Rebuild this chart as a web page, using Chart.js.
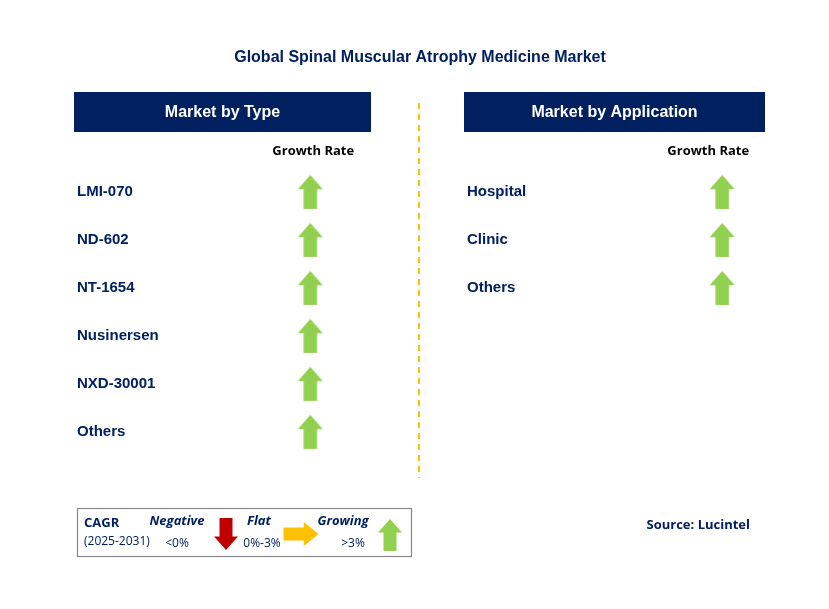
<!DOCTYPE html>
<html><head><meta charset="utf-8">
<script src="https://cdn.jsdelivr.net/npm/chart.js@4"></script>
<style>html,body{margin:0;padding:0;background:#fff}canvas{display:block}</style>
</head><body>
<canvas id="c" width="829" height="609"></canvas>
<script>
const title = "Global Spinal Muscular Atrophy Medicine Market";
const typeCategories = ["LMI-070","ND-602","NT-1654","Nusinersen","NXD-30001","Others"];
const typeGrowth = ["growing","growing","growing","growing","growing","growing"];
const appCategories = ["Hospital","Clinic","Others"];
const appGrowth = ["growing","growing","growing"];
const headers = ["Market by Type","Market by Application"];
const source = "Source: Lucintel";

const NAVY = "#002060", GREEN = "#92D050", RED = "#C00000", YEL = "#FFC000";
const F = "'Liberation Sans', Arial, sans-serif";
const F2 = "'Open Sans', 'DejaVu Sans', sans-serif";

function upArrow(ctx, cx, cy, h, w, color){
  const hw=w/2, bw=w*0.27, hh=h*0.42;
  ctx.save(); ctx.fillStyle=color; ctx.beginPath();
  ctx.moveTo(cx, cy-h/2); ctx.lineTo(cx+hw, cy-h/2+hh); ctx.lineTo(cx+bw, cy-h/2+hh);
  ctx.lineTo(cx+bw, cy+h/2); ctx.lineTo(cx-bw, cy+h/2); ctx.lineTo(cx-bw, cy-h/2+hh);
  ctx.lineTo(cx-hw, cy-h/2+hh); ctx.closePath(); ctx.fill(); ctx.restore();
}
function downArrow(ctx,cx,cy,h,w,color){
  ctx.save(); ctx.translate(cx,cy); ctx.rotate(Math.PI); upArrow(ctx,0,0,h,w,color); ctx.restore();
}
function rightArrow(ctx,cx,cy,h,w,color){
  ctx.save(); ctx.translate(cx,cy); ctx.rotate(Math.PI/2); upArrow(ctx,0,0,h,w,color); ctx.restore();
}

function arrowCanvas(){
  const c=document.createElement('canvas'); c.width=26; c.height=36;
  upArrow(c.getContext('2d'),13,18,34,25,GREEN); return c;
}
const arrowImg = arrowCanvas();

const deco = {
  id:'deco',
  beforeDatasetsDraw(chart){
    const ctx=chart.ctx, xs=chart.scales.x, ys=chart.scales.y;
    ctx.save();
    ctx.textBaseline='middle';
    ctx.fillStyle=NAVY; ctx.font="bold 16px "+F; ctx.textAlign='center';
    ctx.fillText(title, 420, 58);
    [[74,371],[464,765]].forEach((r,i)=>{
      ctx.fillStyle=NAVY; ctx.fillRect(r[0],92,r[1]-r[0],40);
      ctx.fillStyle='#fff'; ctx.font="bold 16px "+F; ctx.fillText(headers[i],(r[0]+r[1])/2,113);
    });
    ctx.fillStyle='#000'; ctx.font="bold 13px "+F2;
    ctx.fillText("Growth Rate", xs.getPixelForValue(0)+3, 151);
    ctx.fillText("Growth Rate", xs.getPixelForValue(1)-14, 151);
    ctx.textAlign='left'; ctx.fillStyle=NAVY; ctx.font="bold 15px "+F;
    typeCategories.forEach((t,i)=>ctx.fillText(t,77,ys.getPixelForValue(i)));
    appCategories.forEach((t,i)=>ctx.fillText(t,467,ys.getPixelForValue(i)));
    ctx.strokeStyle=YEL; ctx.lineWidth=2; ctx.setLineDash([6,5]);
    ctx.beginPath(); ctx.moveTo(419,103); ctx.lineTo(419,478); ctx.stroke(); ctx.setLineDash([]);
    ctx.strokeStyle='#888'; ctx.lineWidth=1.2; ctx.strokeRect(77.5,508.5,334,48);
    ctx.fillStyle=NAVY; ctx.font="bold 13px "+F2; ctx.fillText("CAGR",84,523);
    ctx.font="12px "+F2; ctx.fillText("(2025-2031)",84,542);
    ctx.font="italic bold 13px "+F2; ctx.textAlign='center';
    ctx.fillText("Negative",177,521); ctx.fillText("Flat",259,521); ctx.fillText("Growing",343,521);
    ctx.font="12px "+F2;
    ctx.fillText("<0%",177,544); ctx.fillText("0%-3%",262,544); ctx.fillText(">3%",353,544);
    downArrow(ctx,226,534,32,24,RED);
    rightArrow(ctx,301,534,35,24,YEL);
    upArrow(ctx,390,535,32,24,GREEN);
    ctx.fillStyle=NAVY; ctx.font="bold 13px "+F2; ctx.textAlign='right';
    ctx.fillText(source,750,525);
    ctx.restore();
  }
};

new Chart(document.getElementById('c'),{
  type:'scatter',
  data:{datasets:[
    {data:typeCategories.map((c,i)=>({x:0,y:i,g:typeGrowth[i]})),pointStyle:arrowImg},
    {data:appCategories.map((c,i)=>({x:1,y:i,g:appGrowth[i]})),pointStyle:arrowImg}
  ]},
  options:{
    responsive:false, animation:false, events:[],
    layout:{padding:0},
    plugins:{legend:{display:false},tooltip:{enabled:false}},
    scales:{
      x:{type:'linear',min:-309/417,max:(829-309)/417,display:false},
      y:{type:'linear',reverse:true,min:-190/48.8,max:(609-190)/48.8,display:false}
    }
  },
  plugins:[deco]
});
</script>
</body></html>
